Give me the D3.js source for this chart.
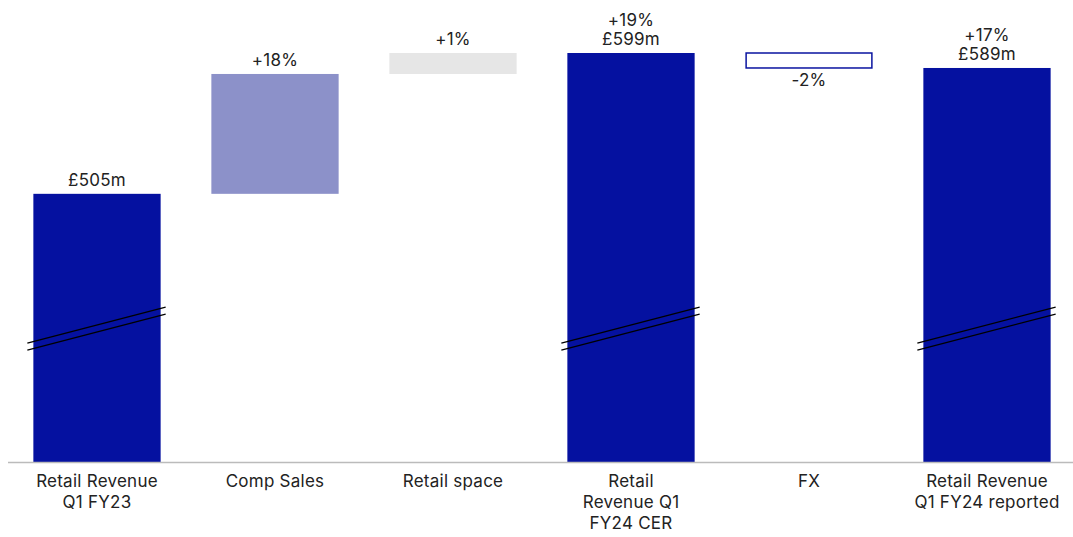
<!DOCTYPE html>
<html><head><meta charset="utf-8">
<script src="https://cdn.jsdelivr.net/npm/d3@7"></script>
<style>body{margin:0;background:#fff}svg{display:block}text{font-family:Inter,"Noto Sans",sans-serif;fill:#222;letter-spacing:0.25px}</style>
</head><body><svg id="c" width="1073" height="537"></svg>
<script>
const categories = [["Retail Revenue","Q1 FY23"],["Comp Sales"],["Retail space"],["Retail","Revenue Q1","FY24 CER"],["FX"],["Retail Revenue","Q1 FY24 reported"]];
const kinds = ["total","up","up2","total","down","total"];
const startVals = [326, 505, 585, 326, 599, 326];
const endVals = [505, 585, 599, 599, 589, 589];
const labels = [["£505m"],["+18%"],["+1%"],["+19%","£599m"],["-2%"],["+17%","£589m"]];
const breakValue = 415;

const svg = d3.select("#c");
const x = d3.scaleBand().domain(d3.range(6)).range([8,1076]).paddingInner(0.285).paddingOuter(0.1425);
const y = d3.scaleLinear().domain([326,599]).range([462,53]);
const fills = {total:"#0511a0", up:"#8c91c9", up2:"#e6e6e6", down:"#fff"};

const data = categories.map((c,i)=>({i,c,k:kinds[i],s:startVals[i],e:endVals[i],l:labels[i]}));

svg.selectAll("rect.bar").data(data).join("rect")
  .attr("x",d=>x(d.i)+(d.k==="down"?0.75:0))
  .attr("width",d=>x.bandwidth()-(d.k==="down"?1.5:0))
  .attr("y",d=>y(Math.max(d.s,d.e)))
  .attr("height",d=>Math.abs(y(d.s)-y(d.e)))
  .attr("fill",d=>fills[d.k])
  .attr("stroke",d=>d.k==="down"?"#0a14a0":"none")
  .attr("stroke-width",1.5);

// axis baseline
svg.append("line").attr("x1",8).attr("x2",1073).attr("y1",y(326)+0.5).attr("y2",y(326)+0.5).attr("stroke","#bbb").attr("stroke-width",1.5);

// break marks on total bars
data.filter(d=>d.k==="total").forEach(d=>{
  const x0 = x(d.i)-6, x1 = x(d.i)+x.bandwidth()+5;
  const yc = y(breakValue);
  [-3.5,3.5].forEach(off=>{
    svg.append("line").attr("x1",x0).attr("x2",x1)
      .attr("y1",yc+off+18).attr("y2",yc+off-18)
      .attr("stroke","#000").attr("stroke-width",1.2);
  });
});

// value labels
data.forEach(d=>{
  const cx = x(d.i)+x.bandwidth()/2;
  if(d.k==="down"){
    svg.append("text").attr("x",cx).attr("y",y(d.e)+18).attr("text-anchor","middle").attr("font-size",17).text(d.l[0]);
  } else {
    const top = y(Math.max(d.s,d.e));
    d.l.forEach((t,j)=>{
      svg.append("text").attr("x",cx).attr("y",top-8-(d.l.length-1-j)*19).attr("text-anchor","middle").attr("font-size",17).text(t);
    });
  }
  d.c.forEach((t,j)=>{
    svg.append("text").attr("x",cx).attr("y",487+j*21).attr("text-anchor","middle").attr("font-size",17).text(t);
  });
});
</script></body></html>
